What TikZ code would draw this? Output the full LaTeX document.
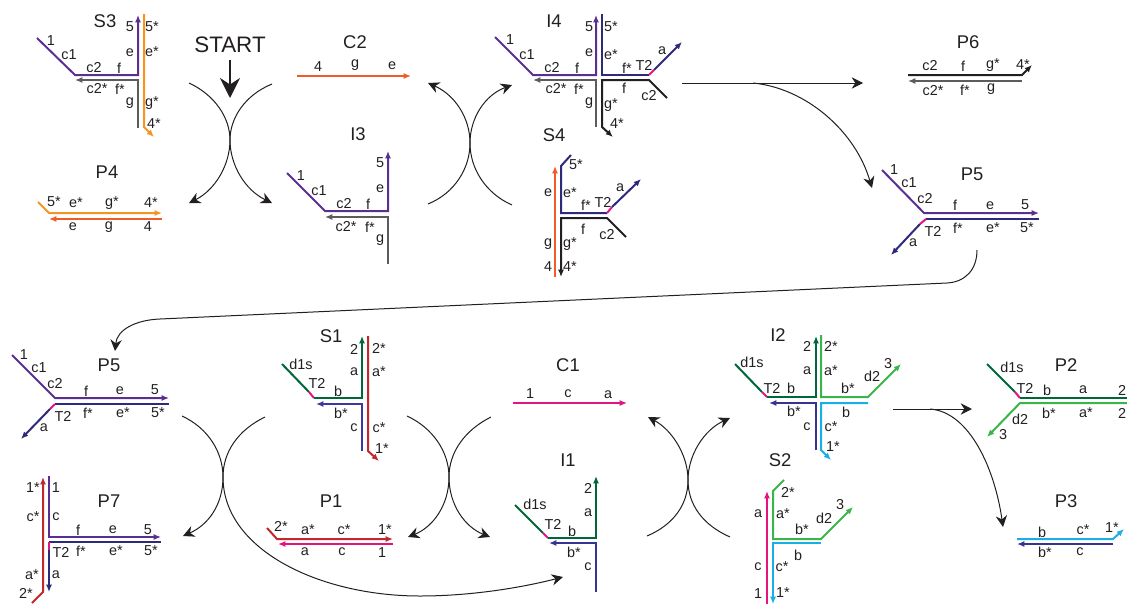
\documentclass[tikz,border=0pt]{standalone}
\usepackage{fontspec}
\setmainfont{Liberation Sans}
\usetikzlibrary{arrows.meta}
\definecolor{cPur}{HTML}{5B2E91}
\definecolor{cGry}{HTML}{5C5C5C}
\definecolor{cOrg}{HTML}{F7941D}
\definecolor{cRor}{HTML}{F15A29}
\definecolor{cNav}{HTML}{2E2A7B}
\definecolor{cMag}{HTML}{E6127F}
\definecolor{cBlk}{HTML}{231F20}
\definecolor{cDgr}{HTML}{006838}
\definecolor{cGrn}{HTML}{39B54A}
\definecolor{cCya}{HTML}{1AAEE5}
\definecolor{cRed}{HTML}{C1272D}
\definecolor{cBlu}{HTML}{3A3A9E}
\tikzset{
  st/.style={line width=1.5pt,line join=miter},
  thinst/.style={line width=1.1pt},
  tipped/.style={-{Latex[length=5.5pt,width=4.6pt]}},
  flow/.style={line width=0.75pt,color=cBlk,-{Stealth[length=8.5pt,width=8.5pt]}},
  lbl/.style={inner sep=0pt,outer sep=0pt,text=cBlk,font=\fontsize{10.8}{12}\selectfont},
  ttl/.style={inner sep=0pt,outer sep=0pt,text=cBlk,font=\fontsize{13.8}{15}\selectfont},
}
\newcounter{labcnt}
\newcommand{\lb}[3]{\stepcounter{labcnt}\node[lbl] (l\thelabcnt) at (#1,#2) {#3};}
\newcommand{\tl}[3]{\node[ttl] (t#3#2) at (#1,#2) {#3};}
\begin{document}
\begin{tikzpicture}[x=0.75pt,y=-0.75pt]
\useasboundingbox (0,0) rectangle (1127,604);
% ---------- S3
\tl{105}{21}{S3}
\draw[st,cPur,tipped] (37,38) -- (75,75) -- (138,75) -- (138,15);
\draw[st,cGry,tipped] (138,128) -- (138,80) -- (75,80);
\draw[st,cOrg,tipped] (144,14) -- (144,127) -- (154,137);
\lb{51}{41}{1}\lb{69}{55}{c1}\lb{94}{68}{c2}\lb{119}{68}{f}\lb{130}{27}{5}\lb{152}{27}{5*}
\lb{130}{53}{e}\lb{152}{52}{e*}\lb{97}{89}{c2*}\lb{120}{89}{f*}\lb{130}{103}{g}\lb{152}{103}{g*}\lb{154}{124}{4*}
% ---------- START
\node[inner sep=0pt,text=cBlk,font=\fontsize{16.8}{18}\selectfont] (start) at (230,45) {START};
\coordinate (startA) at (230,60);
\coordinate (startB) at (230,98);
\draw[line width=1.6pt,cBlk,-{Stealth[length=15pt,width=15pt]}] (startA) -- (startB);
% cross 1
\coordinate (xa) at (230,140);
\coordinate (a1) at (189,83);\coordinate (a2) at (272,203);
\coordinate (a3) at (272,84);\coordinate (a4) at (189,203);
\draw[flow] (a1) .. controls (215,95) and (230,118) .. (xa) .. controls (230,165) and (245,190) .. (a2);
\draw[flow] (a3) .. controls (245,95) and (230,118) .. (xa) .. controls (230,165) and (215,190) .. (a4);
% ---------- C2
\tl{355}{42}{C2}
\draw[thinst,cRor,tipped] (297,76) -- (411,76);
\lb{318}{67}{4}\lb{355}{65}{g}\lb{392}{66}{e}
% ---------- I3
\tl{358}{134}{I3}
\draw[st,cPur,tipped] (287,173) -- (325,211) -- (388,211) -- (388,151);
\draw[st,cGry,tipped] (388,264) -- (388,217) -- (325,217);
\lb{301}{176}{1}\lb{319}{191}{c1}\lb{344}{204}{c2}\lb{368}{204}{f}\lb{380}{163}{5}\lb{380}{189}{e}
\lb{346}{227}{c2*}\lb{370}{227}{f*}\lb{380}{240}{g}
% ---------- P4
\tl{107}{172}{P4}
\draw[st,cOrg,tipped] (38,202) -- (49,213) -- (162,213);
\draw[st,cRor,tipped] (162,219) -- (49,219);
\lb{54}{202}{5*}\lb{76}{203}{e*}\lb{112}{203}{g*}\lb{151}{203}{4*}\lb{73}{227}{e}\lb{109}{227}{g}\lb{148}{227}{4}
% ---------- cross 2
\coordinate (xb) at (470,143);
\coordinate (b1) at (512,205);\coordinate (b2) at (428,83);
\coordinate (b3) at (428,204);\coordinate (b4) at (512,85);
\draw[flow] (b1) .. controls (485,193) and (470,168) .. (xb) .. controls (470,118) and (455,95) .. (b2);
\draw[flow] (b3) .. controls (455,193) and (470,168) .. (xb) .. controls (470,118) and (485,95) .. (b4);
% ---------- I4
\tl{554}{21}{I4}
\draw[st,cPur,tipped] (495,37) -- (533,75) -- (596,75) -- (596,15);
\draw[st,cGry,tipped] (596,127) -- (596,80) -- (533,80);
\draw[st,cNav] (602,14) -- (602,75) -- (649,75);
\draw[st,cMag] (649,75) -- (654,70);
\draw[st,cNav,tipped] (654,70) -- (682,42);
\draw[st,cBlk,tipped] (667,98) -- (649,80) -- (602,80) -- (602,127) -- (613,137);
\lb{510}{40}{1}\lb{527}{55}{c1}\lb{552}{68}{c2}\lb{577}{68}{f}\lb{589}{27}{5}\lb{589}{53}{e}
\lb{611}{27}{5*}\lb{611}{55}{e*}\lb{627}{68}{f*}\lb{644}{65}{T2}\lb{662}{51}{a}
\lb{556}{89}{c2*}\lb{579}{89}{f*}\lb{589}{103}{g}\lb{624}{88}{f}\lb{649}{96}{c2}\lb{611}{105}{g*}\lb{617}{124}{4*}
% ---------- S4
\tl{554}{135}{S4}
\draw[st,cRor,tipped] (555,277) -- (555,166);
\draw[st,cNav] (571,155) -- (561,166) -- (561,213) -- (607,213);
\draw[st,cMag] (607,213) -- (612,207);
\draw[st,cNav,tipped] (612,207) -- (641,179);
\draw[st,cBlk,tipped] (626,237) -- (607,218) -- (561,218) -- (561,277);
\lb{548}{193}{e}\lb{570}{193}{e*}\lb{576}{165}{5*}\lb{620}{188}{a}\lb{603}{202}{T2}\lb{586}{205}{f*}
\lb{583}{229}{f}\lb{607}{235}{c2}\lb{548}{244}{g}\lb{570}{244}{g*}\lb{548}{267}{4}\lb{570}{267}{4*}
% ---------- I4 outputs
\coordinate (c1) at (682,83);\coordinate (c2) at (863,83);
\coordinate (c3) at (753,83);\coordinate (c4) at (872,188);
\draw[flow] (c1) -- (c2);
\draw[flow] (c3) .. controls (805,88) and (855,130) .. (c4);
% ---------- P6
\tl{968}{42}{P6}
\draw[st,cBlk,tipped] (908,75) -- (1022,75) -- (1032,65);
\draw[st,cGry,tipped] (1022,81) -- (908,81);
\lb{930}{66}{c2}\lb{963}{66}{f}\lb{993}{65}{g*}\lb{1023}{65}{4*}\lb{933}{91}{c2*}\lb{965}{90}{f*}\lb{991}{89}{g}
% ---------- P5 top
\tl{972}{174}{P5}
\draw[st,cPur,tipped] (882,170) -- (924,213) -- (1039,213);
\draw[st,cNav] (1039,219) -- (926,219);
\draw[st,cMag] (926,219) -- (920,224);
\draw[st,cNav,tipped] (920,224) -- (891,255);
\lb{894}{170}{1}\lb{909}{183}{c1}\lb{925}{199}{c2}\lb{955}{205}{f}\lb{990}{206}{e}\lb{1025}{205}{5}
\lb{933}{231}{T2}\lb{958}{228}{f*}\lb{993}{228}{e*}\lb{1027}{228}{5*}\lb{913}{243}{a}
% ---------- long return curve
\coordinate (d1) at (977,250);\coordinate (d2) at (947,283);
\coordinate (d3) at (160,319);\coordinate (d4) at (115,351);
\draw[flow] (d1) .. controls (977,270) and (965,282) .. (d2) -- (d3) .. controls (135,320) and (117,330) .. (d4);
% ---------- P5 bottom
\tl{109}{365}{P5}
\draw[st,cPur,tipped] (12,355) -- (55,398) -- (169,398);
\draw[st,cNav] (169,404) -- (55,404);
\draw[st,cMag] (55,404) -- (50,409);
\draw[st,cNav,tipped] (50,409) -- (21,439);
\lb{24}{355}{1}\lb{39}{368}{c1}\lb{55}{384}{c2}\lb{86}{391}{f}\lb{120}{391}{e}\lb{155}{390}{5}
\lb{63}{416}{T2}\lb{88}{413}{f*}\lb{123}{413}{e*}\lb{158}{413}{5*}\lb{44}{428}{a}
% ---------- S1
\tl{331}{336}{S1}
\draw[st,cDgr] (282,364) -- (309,392);
\draw[st,cMag] (309,392) -- (314,398);
\draw[st,cDgr,tipped] (314,398) -- (362,398) -- (362,336);
\draw[st,cBlu,tipped] (362,451) -- (362,404) -- (316,404);
\draw[st,cRed,tipped] (368,336) -- (368,451) -- (379,461);
\lb{354}{349}{2}\lb{379}{348}{2*}\lb{301}{364}{d1s}\lb{317}{383}{T2}\lb{338}{391}{b}\lb{354}{372}{a}\lb{379}{372}{a*}
\lb{341}{413}{b*}\lb{354}{428}{c}\lb{379}{428}{c*}\lb{382}{449}{1*}
% ---------- P7
\tl{109}{501}{P7}
\draw[st,cRed,tipped] (32,603) -- (43,592) -- (43,477);
\draw[st,cPur,tipped] (49,476) -- (49,537) -- (161,537);
\draw[st,cNav] (161,542) -- (49,542);
\draw[st,cMag] (49,542) -- (49,550);
\draw[st,cNav,tipped] (49,550) -- (49,592);
\lb{33}{488}{1*}\lb{56}{488}{1}\lb{33}{517}{c*}\lb{56}{517}{c}\lb{78}{530}{f}\lb{113}{530}{e}\lb{148}{530}{5}
\lb{61}{552}{T2}\lb{81}{551}{f*}\lb{116}{551}{e*}\lb{151}{551}{5*}\lb{32}{575}{a*}\lb{56}{575}{a}\lb{26}{593}{2*}
% ---------- P1
\tl{331}{501}{P1}
\draw[st,cRed,tipped] (267,528) -- (277,539) -- (393,539);
\draw[st,cMag,tipped] (393,544) -- (278,544);
\lb{281}{526}{2*}\lb{308}{530}{a*}\lb{344}{530}{c*}\lb{385}{530}{1*}\lb{305}{552}{a}\lb{342}{552}{c}\lb{382}{553}{1}
% ---------- cross 3
\coordinate (xc) at (223,477);
\coordinate (e1) at (182,416);\coordinate (e2) at (183,536);
\coordinate (e3) at (265,417);\coordinate (e4) at (563,577);
\draw[flow] (e1) .. controls (208,428) and (223,452) .. (xc) .. controls (223,505) and (208,525) .. (e2);
\draw[flow] (e3) .. controls (238,430) and (223,452) .. (xc) .. controls (223,550) and (320,596) .. (420,596) .. controls (470,596) and (520,588) .. (e4);
% ---------- cross 4
\coordinate (xd) at (449,477);
\coordinate (f1) at (407,416);\coordinate (f2) at (490,537);
\coordinate (f3) at (491,417);\coordinate (f4) at (408,537);
\draw[flow] (f1) .. controls (433,428) and (449,452) .. (xd) .. controls (449,505) and (465,527) .. (f2);
\draw[flow] (f3) .. controls (465,430) and (449,452) .. (xd) .. controls (449,505) and (433,527) .. (f4);
% ---------- C1
\tl{568}{365}{C1}
\draw[st,cMag,tipped] (513,403) -- (627,403);
\lb{530}{394}{1}\lb{568}{394}{c}\lb{608}{395}{a}
% ---------- I1
\tl{568}{460}{I1}
\draw[st,cDgr] (515,505) -- (543,533);
\draw[st,cMag] (543,533) -- (548,538);
\draw[st,cDgr,tipped] (548,538) -- (596,538) -- (596,476);
\draw[st,cBlu!60!cNav,tipped] (596,592) -- (596,543) -- (549,543);
\lb{535}{504}{d1s}\lb{553}{524}{T2}\lb{572}{531}{b}\lb{588}{513}{a}\lb{588}{488}{2}\lb{574}{552}{b*}\lb{588}{567}{c}
% ---------- cross 5
\coordinate (xe) at (688,480);
\coordinate (g1) at (730,537);\coordinate (g2) at (648,417);
\coordinate (g3) at (647,536);\coordinate (g4) at (730,418);
\draw[flow] (g1) .. controls (703,525) and (688,505) .. (xe) .. controls (688,455) and (672,430) .. (g2);
\draw[flow] (g3) .. controls (673,525) and (688,505) .. (xe) .. controls (688,455) and (704,430) .. (g4);
% ---------- I2
\tl{778}{335}{I2}
\draw[st,cDgr] (735,364) -- (762,392);
\draw[st,cMag] (762,392) -- (767,397);
\draw[st,cDgr,tipped] (767,397) -- (816,397) -- (816,336);
\draw[st,cBlu!60!cNav,tipped] (816,450) -- (816,403) -- (769,403);
\draw[st,cGrn,tipped] (821,335) -- (821,397) -- (868,397) -- (901,364);
\draw[st,cCya,tipped] (868,403) -- (821,403) -- (821,450) -- (831,460);
\lb{807}{346}{2}\lb{831}{346}{2*}\lb{752}{362}{d1s}\lb{772}{388}{T2}\lb{791}{388}{b}\lb{807}{371}{a}\lb{831}{371}{a*}
\lb{848}{388}{b*}\lb{872}{376}{d2}\lb{888}{364}{3}\lb{794}{411}{b*}\lb{846}{412}{b}\lb{807}{427}{c}\lb{831}{427}{c*}\lb{833}{447}{1*}
% ---------- S2
\tl{780}{460}{S2}
\draw[st,cMag,tipped] (767,604) -- (767,491);
\draw[st,cGrn,tipped] (784,480) -- (773,491) -- (773,539) -- (821,539) -- (853,507);
\draw[st,cCya,tipped] (821,543) -- (773,543) -- (773,604);
\lb{788}{492}{2*}\lb{758}{514}{a}\lb{783}{514}{a*}\lb{802}{529}{b*}\lb{824}{518}{d2}\lb{840}{505}{3}
\lb{798}{555}{b}\lb{758}{567}{c}\lb{782}{567}{c*}\lb{758}{594}{1}\lb{783}{593}{1*}
% ---------- I2 outputs
\coordinate (h1) at (893,409);\coordinate (h2) at (972,409);
\coordinate (h3) at (930,409);\coordinate (h4) at (1003,527);
\draw[flow] (h1) -- (h2);
\draw[flow] (h3) .. controls (970,412) and (995,470) .. (h4);
% ---------- P2
\tl{1066}{365}{P2}
\draw[st,cDgr] (987,364) -- (1015,392);
\draw[st,cMag] (1015,392) -- (1020,398);
\draw[st,cDgr] (1020,398) -- (1127,398);
\draw[st,cGrn,tipped] (1127,403) -- (1020,403) -- (987,437);
\lb{1012}{367}{d1s}\lb{1025}{388}{T2}\lb{1047}{390}{b}\lb{1083}{390}{a}\lb{1122}{390}{2}
\lb{1049}{413}{b*}\lb{1086}{413}{a*}\lb{1122}{413}{2}\lb{1020}{419}{d2}\lb{1003}{435}{3}
% ---------- P3
\tl{1066}{501}{P3}
\draw[st,cCya,tipped] (1017,539) -- (1113,539) -- (1124,529);
\draw[st,cBlu!60!cNav,tipped] (1113,544) -- (1017,544);
\lb{1042}{532}{b}\lb{1083}{530}{c*}\lb{1112}{528}{1*}\lb{1045}{552}{b*}\lb{1080}{552}{c}
\end{tikzpicture}
\end{document}
